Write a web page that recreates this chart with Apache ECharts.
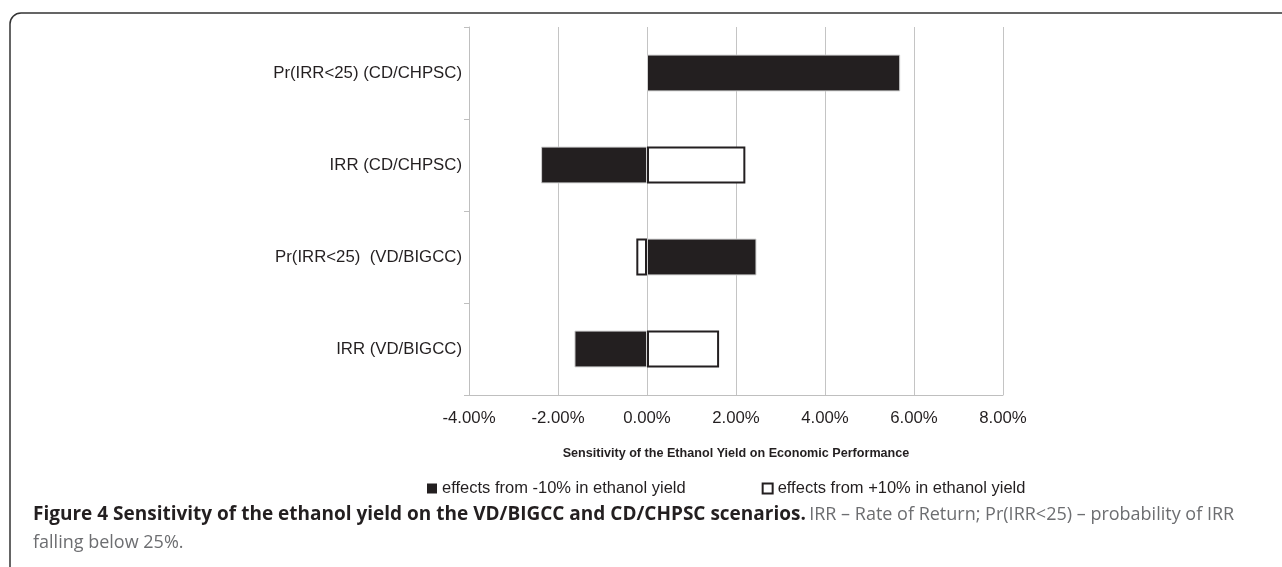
<!DOCTYPE html>
<html>
<head>
<meta charset="utf-8">
<script src="https://cdn.jsdelivr.net/npm/echarts@6/dist/echarts.min.js"></script>
<style>
  html, body { margin: 0; padding: 0; background: #fff; }
  #chart { width: 1282px; height: 567px; }
</style>
</head>
<body>
<div id="chart"></div>
<script>
// categories, bottom to top (category axis runs upward)
const categories = ['IRR (VD/BIGCC)', 'Pr(IRR<25)  (VD/BIGCC)', 'IRR (CD/CHPSC)', 'Pr(IRR<25) (CD/CHPSC)'];
// effects in %
const minus10 = [-1.63, 2.46, -2.38, 5.69];
const plus10 = [1.62, -0.24, 2.21, 0];
const seriesNames = ['effects from -10% in ethanol yield', 'effects from +10% in ethanol yield'];
const axisTitle = 'Sensitivity of the Ethanol Yield on Economic Performance';
const captionBold = 'Figure 4 Sensitivity of the ethanol yield on the VD/BIGCC and CD/CHPSC scenarios.';
const captionRest = 'IRR \u2013 Rate of Return; Pr(IRR<25) \u2013 probability of IRR';
const captionLine2 = 'falling below 25%.';

const chart = echarts.init(document.getElementById('chart'));
const textFont = '"Liberation Sans", Arial, sans-serif';
const capFont = '"Open Sans", sans-serif';

let option = {
  animation: false,
  grid: { left: 469, right: 279, top: 27, bottom: 172 },
  xAxis: {
    type: 'value',
    min: -4,
    max: 8,
    interval: 2,
    axisLine: { show: true, lineStyle: { color: '#bfbfbf', width: 1 } },
    axisTick: { show: false },
    splitLine: { lineStyle: { color: '#c4c4c4', width: 1 } },
    axisLabel: {
      formatter: (v) => v.toFixed(2) + '%',
      fontFamily: textFont,
      fontSize: 16.8,
      color: '#231f20',
      margin: 15
    },
    name: axisTitle,
    nameLocation: 'middle',
    nameGap: 52,
    nameTextStyle: { fontFamily: textFont, fontSize: 12.6, fontWeight: 'bold', color: '#231f20' }
  },
  yAxis: [
    {
      type: 'category',
      data: categories,
      axisLine: { show: false },
      axisTick: { show: false },
      axisLabel: { fontFamily: textFont, fontSize: 16.8, color: '#231f20', margin: 7 }
    },
    {
      // axis line sitting on zero, with boundary ticks
      type: 'category',
      data: categories,
      position: 'left',
      axisLine: { show: true, onZero: true, lineStyle: { color: '#bfbfbf' } },
      axisTick: { show: true, length: 5, lineStyle: { color: '#bfbfbf' } },
      axisLabel: { show: false }
    }
  ],
  legend: {
    left: 427,
    top: 480,
    padding: 0,
    itemWidth: 10,
    itemHeight: 10,
    itemGap: 76,
    icon: 'rect',
    textStyle: { fontFamily: textFont, fontSize: 16.5, color: '#231f20' },
    data: [
      { name: seriesNames[0], itemStyle: { color: '#231f20', borderWidth: 0 } },
      { name: seriesNames[1], itemStyle: { color: '#fff', borderColor: '#231f20', borderWidth: 2 } }
    ]
  },
  series: [
    {
      name: seriesNames[0],
      type: 'bar',
      data: minus10,
      barWidth: '40%',
      barGap: '-100%',
      itemStyle: { color: '#231f20', borderColor: '#d0d0d0', borderWidth: 1 }
    },
    {
      name: seriesNames[1],
      type: 'bar',
      // a zero effect draws no outline
      data: plus10.map((v) => (v === 0 ? { value: v, itemStyle: { borderWidth: 0 } } : v)),
      barWidth: '40%',
      barGap: '-100%',
      itemStyle: { color: '#ffffff', borderColor: '#231f20', borderWidth: 2 }
    }
  ],
  graphic: [
    {
      type: 'rect',
      shape: { x: 10, y: 13, width: 1320, height: 620, r: 11 },
      style: { fill: 'none', stroke: '#333', lineWidth: 1.5 },
      silent: true
    },
    {
      type: 'text',
      left: 33,
      top: 505,
      style: {
        text: '{b|' + captionBold + '} {n|' + captionRest + '}\n{n|' + captionLine2 + '}',
        rich: {
          b: { fontFamily: capFont, fontWeight: 'bold', fontSize: 19, fill: '#231f20', lineHeight: 28 },
          n: { fontFamily: capFont, fontSize: 18, fill: '#6d6e71', lineHeight: 28 }
        }
      }
    }
  ]
};

chart.setOption(option);
</script>
</body>
</html>
